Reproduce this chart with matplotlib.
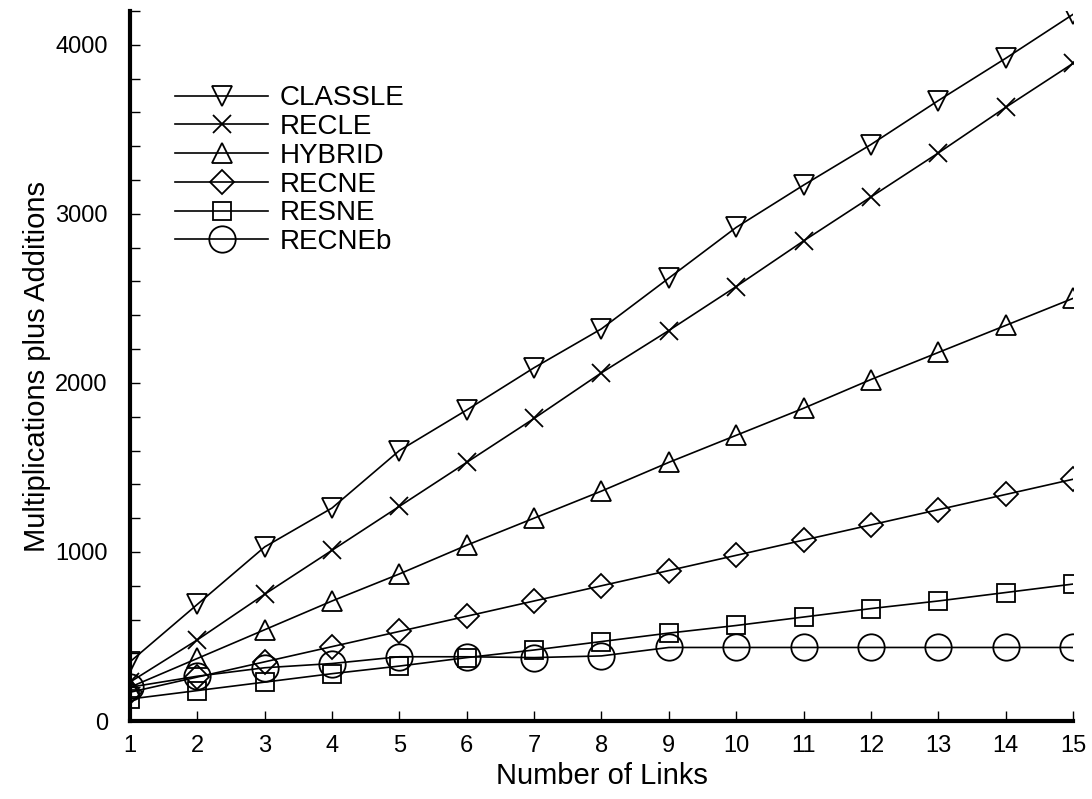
import matplotlib
matplotlib.use("Agg")
import matplotlib.pyplot as plt
from matplotlib.ticker import MultipleLocator

plt.rcParams['font.family'] = ['Liberation Sans', 'DejaVu Sans']

# Number of links on the x axis
links = list(range(1, 16))

# operation counts
classle = [350, 690, 1030, 1260, 1600, 1840, 2090, 2320, 2620, 2920, 3170, 3410, 3670, 3920, 4180]
recle = [230, 480, 750, 1010, 1270, 1530, 1790, 2060, 2310, 2570, 2840, 3100, 3360, 3630, 3890]
hybrid = [200, 370, 540, 710, 870, 1040, 1200, 1360, 1530, 1690, 1850, 2020, 2180, 2340, 2500]
recne = [170, 260, 350, 440, 530, 620, 710, 800, 890, 980, 1070, 1160, 1250, 1340, 1430]
resne = [130, 180, 230, 280, 325, 375, 420, 470, 520, 565, 615, 665, 710, 760, 810]
recneb = [200, 265, 315, 340, 380, 380, 375, 385, 435, 435, 435, 435, 435, 435, 435]

series = [
    ("CLASSLE", classle, "v", 15),
    ("RECLE", recle, "x", 13),
    ("HYBRID", hybrid, "^", 15),
    ("RECNE", recne, "D", 12),
    ("RESNE", resne, "s", 13),
    ("RECNEb", recneb, "o", 19),
]

fig = plt.figure(figsize=(10.92, 7.99), dpi=100)
ax = fig.add_axes([130 / 1092, 78 / 799, 943 / 1092, 710 / 799])

for name, vals, mk, ms in series:
    ax.plot(links, vals, color="black", linewidth=1.2, marker=mk, markersize=ms,
            markerfacecolor="none", markeredgecolor="black", markeredgewidth=1.3,
            label=name)

ax.set_xlim(1, 15)
ax.set_ylim(0, 4200)
ax.xaxis.set_major_locator(MultipleLocator(1))
ax.yaxis.set_major_locator(MultipleLocator(1000))
ax.yaxis.set_minor_locator(MultipleLocator(200))

for side in ["top", "right"]:
    ax.spines[side].set_visible(False)
for side in ["left", "bottom"]:
    ax.spines[side].set_linewidth(3)

ax.tick_params(axis="both", which="major", direction="in", length=7, width=1,
               labelsize=17)
ax.tick_params(axis="x", which="major", pad=10)
ax.tick_params(axis="y", which="major", pad=16)
ax.tick_params(axis="y", which="minor", direction="in", length=7, width=1)

ax.set_xlabel("Number of Links", fontsize=21, labelpad=4)
ax.set_ylabel("Multiplications plus Additions", fontsize=21, labelpad=3)

ax.legend(loc="upper left", bbox_to_anchor=(0.033, 0.915), frameon=False,
          fontsize=20, handlelength=3.35, numpoints=1, labelspacing=0.1,
          handletextpad=0.43, borderpad=0)

fig.savefig("out.png", dpi=100)
